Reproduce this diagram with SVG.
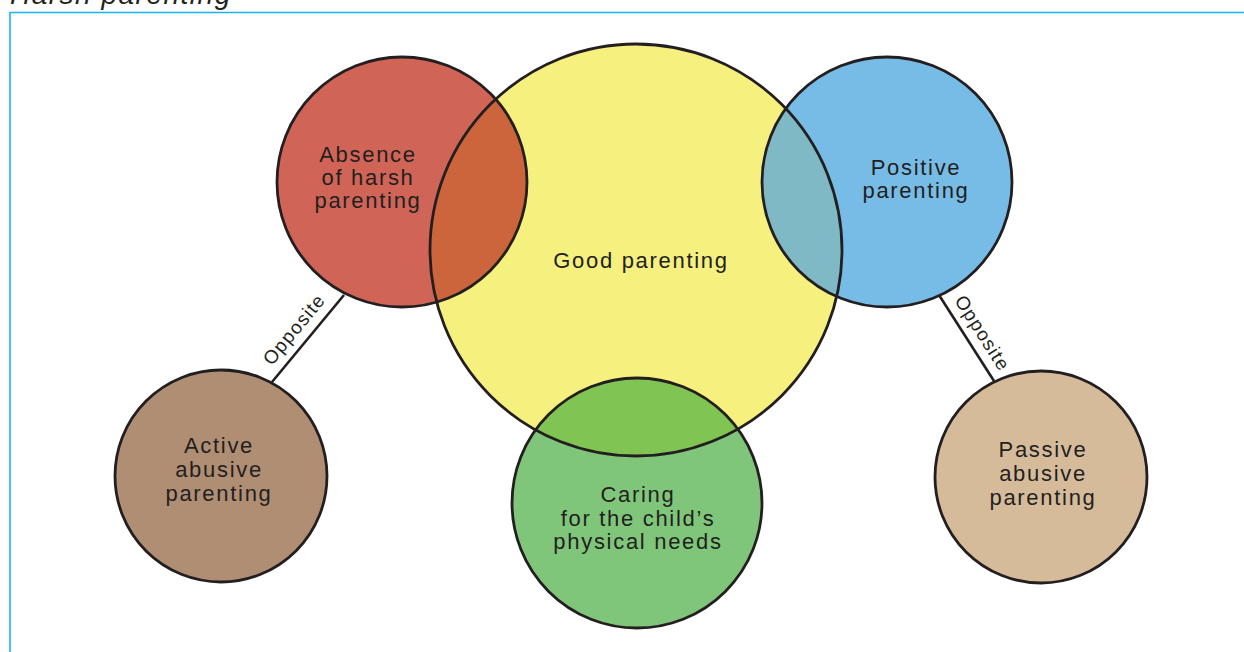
<svg xmlns="http://www.w3.org/2000/svg" width="1244" height="652" viewBox="0 0 1244 652">
  <defs>
    <style>
      .lbl { font-family: "Liberation Sans", Arial, sans-serif; font-size: 22px; letter-spacing: 1.7px; fill: #231f20; text-anchor: middle; }
      .opp { font-family: "Liberation Sans", Arial, sans-serif; font-size: 19px; letter-spacing: 1.2px; fill: #231f20; text-anchor: middle; }
      .title { font-family: "Liberation Sans", Arial, sans-serif; font-size: 28px; font-style: italic; letter-spacing: 1.5px; fill: #231f20; }
      .frame { stroke: #1ab4e8; stroke-width: 1.6; fill: none; }
      .conn { stroke: #231f20; stroke-width: 2.6; fill: none; }
      .ol { fill: none; stroke: #231f20; stroke-width: 2.8; }
    </style>
    <clipPath id="clipGood"><circle cx="636" cy="250" r="206"/></clipPath>
  </defs>

  <g id="frame">
    <text class="title" x="10" y="4">Harsh parenting</text>
    <line class="frame" x1="10" y1="12.5" x2="1244" y2="12.5"/>
    <line class="frame" x1="10" y1="12" x2="10" y2="652"/>
  </g>

  <g id="connectors">
    <line class="conn" x1="344" y1="295" x2="272" y2="382"/>
    <text class="opp" transform="translate(299,333.5) rotate(-50.3)">Opposite</text>
    <line class="conn" x1="939" y1="295" x2="994" y2="381"/>
    <text class="opp" transform="translate(977,336.5) rotate(57.5)">Opposite</text>
  </g>

  <g id="node-good">
    <circle cx="636" cy="250" r="206" fill="#f6f07f"/>
    <text class="lbl" x="641" y="268">Good parenting</text>
  </g>

  <g id="node-absence">
    <circle cx="402" cy="182" r="125" fill="#d06557"/>
    <text class="lbl" x="368" y="162">Absence</text>
    <text class="lbl" x="368" y="185">of harsh</text>
    <text class="lbl" x="368" y="208">parenting</text>
  </g>

  <g id="node-positive">
    <circle cx="887" cy="182" r="125" fill="#77bce6"/>
    <text class="lbl" x="916" y="175">Positive</text>
    <text class="lbl" x="916" y="198">parenting</text>
  </g>

  <g id="node-caring">
    <circle cx="637" cy="503" r="125" fill="#80c67a"/>
    <text class="lbl" x="638" y="502">Caring</text>
    <text class="lbl" x="638" y="526">for the child’s</text>
    <text class="lbl" x="638" y="549">physical needs</text>
  </g>

  <g id="node-active">
    <circle cx="221" cy="476" r="106" fill="#b08e74"/>
    <text class="lbl" x="219" y="453">Active</text>
    <text class="lbl" x="219" y="477">abusive</text>
    <text class="lbl" x="219" y="501">parenting</text>
  </g>

  <g id="node-passive">
    <circle cx="1041" cy="477" r="106" fill="#d6bb9b"/>
    <text class="lbl" x="1043" y="457">Passive</text>
    <text class="lbl" x="1043" y="481">abusive</text>
    <text class="lbl" x="1043" y="505">parenting</text>
  </g>

  <g id="overlaps" clip-path="url(#clipGood)">
    <circle cx="402" cy="182" r="125" fill="#cc653b"/>
    <circle cx="887" cy="182" r="125" fill="#7fb9c5"/>
    <circle cx="637" cy="503" r="125" fill="#80c453"/>
  </g>

  <g id="outlines">
    <circle class="ol" cx="636" cy="250" r="206"/>
    <circle class="ol" cx="402" cy="182" r="125"/>
    <circle class="ol" cx="887" cy="182" r="125"/>
    <circle class="ol" cx="637" cy="503" r="125"/>
    <circle class="ol" cx="221" cy="476" r="106"/>
    <circle class="ol" cx="1041" cy="477" r="106"/>
  </g>
</svg>
